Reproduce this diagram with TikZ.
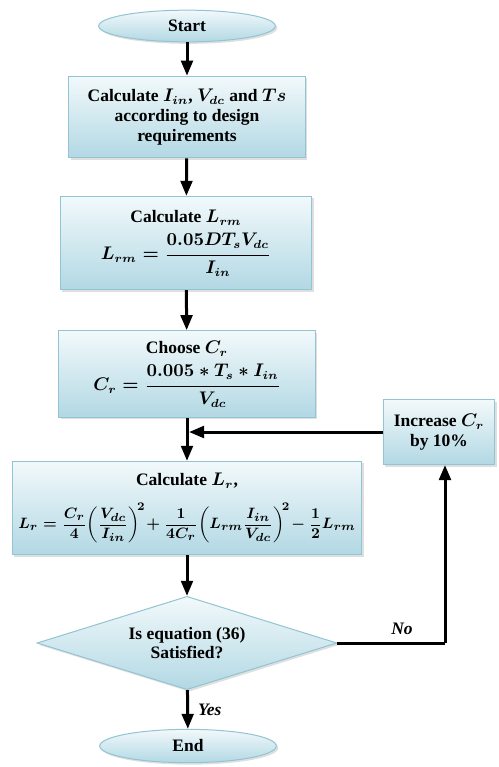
\documentclass[tikz,border=0pt]{standalone}
\usepackage{amsmath}
\usepackage{fontspec}
\setmainfont{Liberation Serif}
\usetikzlibrary{arrows.meta,shapes.geometric,shadows,positioning}

\definecolor{boxtop}{HTML}{F2F9FB}
\definecolor{boxbot}{HTML}{B2D8E4}
\definecolor{boxline}{HTML}{92C4D2}

\tikzset{
  flowfill/.style={draw=boxline,line width=0.6pt,top color=boxtop,bottom color=boxbot,
    drop shadow={shadow xshift=1.2pt,shadow yshift=-1.2pt,fill=black!25},
    font=\fontsize{10.5}{11.8}\selectfont\bfseries\boldmath,align=center,inner sep=1pt},
  procbox/.style={flowfill,rectangle},
  termnode/.style={flowfill,ellipse},
  decnode/.style={flowfill,diamond,aspect=3.2,inner sep=0pt},
  flowarrow/.style={-{Triangle[width=7pt,length=9pt]},line width=1.8pt},
  flowline/.style={line width=1.8pt},
  flowlabel/.style={font=\fontsize{10.5}{12}\selectfont\bfseries\itshape}
}

\begin{document}
\begin{tikzpicture}[x=0.6pt,y=-0.6pt]
\useasboundingbox (0,0) rectangle (498,767);
        % flowchart blocks
\node[termnode,minimum width=106pt,minimum height=19pt] (start) at (187,26) {Start};
\node[procbox,minimum width=142pt,minimum height=49pt] (init) at (187,117)
  {Calculate $I_{in}$, $V_{dc}$ and $Ts$\\ according to design\\ requirements};
\node[procbox,minimum width=151pt,minimum height=56pt] (lrm) at (186,243)
  {Calculate $L_{rm}$\\[4pt] $\displaystyle L_{rm}=\frac{0.05DT_sV_{dc}}{I_{in}}$};
\node[procbox,minimum width=154pt,minimum height=52pt] (cr) at (187,374)
  {Choose $C_r$\\[4pt] $\displaystyle C_r=\frac{0.005*T_s*I_{in}}{V_{dc}}$};
\node[procbox,minimum width=210pt,minimum height=56pt] (lr) at (187,508)
  {Calculate $L_r$,\\[8pt] {\fontsize{9.3}{10}\selectfont$\displaystyle L_r=\frac{C_r}{4}\biggl(\frac{V_{dc}}{I_{in}}\biggr)^{\!2}\!+\frac{1}{4C_r}\biggl(L_{rm}\frac{I_{in}}{V_{dc}}\biggr)^{\!2}\!-\frac{1}{2}L_{rm}$}};
\node[procbox,minimum width=67pt,minimum height=39pt] (inc) at (439,432)
  {Increase $C_r$\\ by 10\%};
\node[decnode,minimum width=180pt,minimum height=56pt] (check) at (187,643)
  {Is equation (36)\\ Satisfied?};
\node[termnode,minimum width=106pt,minimum height=20pt] (end) at (188,746) {End};

\coordinate (join) at (187,432);
\coordinate (corner) at (445,643);

\draw[flowarrow] (start) -- (init);
\draw[flowarrow] (init) -- (lrm);
\draw[flowarrow] (lrm) -- (cr);
\draw[flowarrow] (cr) -- (lr);
\draw[flowarrow] (lr) -- (check);
\draw[flowarrow] (check) -- node[flowlabel,right=2pt] (yes) {Yes} (end);
\draw[flowline] (check.east) -- node[flowlabel,above=1pt,pos=0.6] (no) {No} (corner);
\draw[flowarrow] (corner) -- (corner |- inc.south);
\draw[flowarrow] (inc.west) -- ([xshift=1.2pt]join);
\end{tikzpicture}
\end{document}
